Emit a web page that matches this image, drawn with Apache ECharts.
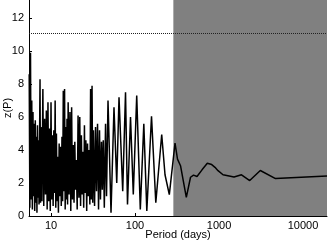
<!DOCTYPE html>
<html>
<head>
<meta charset="utf-8">
<script src="https://cdn.jsdelivr.net/npm/echarts@6/dist/echarts.min.js"></script>
<style>html,body{margin:0;padding:0;background:#fff}#c{width:328px;height:242px}</style>
</head>
<body>
<div id="c"></div>
<script>
const periods = [5.5,5.6,5.7,5.8,5.9,6.0,6.1,6.2,6.3,6.4,6.5,6.6,6.7,6.8,6.9,7.0,7.1,7.2,7.4,7.5,7.6,7.8,8.0,8.2,8.4,8.6,8.8,9.0,9.2,9.4,9.6,9.8,10.0,10.2,10.4,10.6,10.8,11.0,11.2,11.4,11.6,11.8,12.0,12.25,12.5,12.75,13.0,13.25,13.5,13.75,14.0,14.25,14.5,14.75,15.0,15.25,15.5,15.75,16.0,16.4,16.8,17.2,17.6,18.0,18.4,18.8,19.2,19.6,20.0,20.5,21.0,21.5,22.0,22.5,23.0,23.5,24.0,24.5,25.0,25.5,26.0,26.6,27.2,27.8,28.4,29.0,29.6,30.2,30.8,31.4,32.0,33.0,33.9,34.8,35.8,36.8,37.8,38.8,39.9,40.8,41.9,43.1,44.6,45.8,47.7,51.8,56.2,60.6,64.5,71.4,77.1,81.4,88.4,95.4,104.8,115.6,127.3,138.2,157.2,176.8,207.9,227.6,256.1,299.4,320.6,348.1,408.1,457.9,497.2,547.1,627.6,725.5,818.8,896,973,1116,1509,1853,2321,3102,4706,19300];
const zValues = [8.6,0.5,9.9,1.0,7.0,0.4,6.3,1.2,5.6,0.3,5.8,0.8,4.8,0.2,5.5,1.1,4.6,0.7,8.3,0.8,5.4,0.9,7.7,0.6,5.9,1.3,6.4,0.4,6.9,0.9,5.3,0.3,6.9,1.0,4.9,0.6,5.2,1.4,7.0,0.5,5.0,0.9,3.6,0.2,4.4,1.2,4.2,0.6,4.8,0.9,7.6,1.5,7.7,0.4,5.4,1.0,5.9,0.7,6.9,1.3,6.3,0.3,6.6,1.0,4.3,0.8,4.5,1.6,3.4,0.4,6.1,1.1,6.0,0.6,4.9,1.3,3.9,0.5,5.5,1.4,4.6,0.3,4.4,1.2,4.0,0.7,7.7,1.0,7.9,0.8,5.2,0.6,5.4,1.5,5.6,0.4,5.2,1.0,4.5,1.6,4.6,0.5,5.6,1.2,7.0,0.2,6.6,2.0,7.2,1.5,7.5,0.7,6.0,1.3,7.3,0.4,5.6,0.3,6.05,0.8,4.94,2.5,1.3,4.42,3.45,3.05,1.13,2.35,2.48,2.4,2.8,3.2,3.12,2.95,2.75,2.5,2.36,2.5,2.15,2.76,2.27,2.42];
const xMin = 5.47, xMax = 19300;
const yMin = 0, yMax = 13.1, yInterval = 2;
const xTickLabels = [10, 100, 1000, 10000];
const threshold = 11.1;
const shadeStart = 286;

const chart = echarts.init(document.getElementById('c'), null, {renderer: 'canvas'});
const font = 'Liberation Sans';
chart.setOption({
  animation: false,
  grid: {left: 29, right: 1, top: 0, bottom: 26, containLabel: false, outerBoundsMode: 'none'},
  xAxis: {
    type: 'log', logBase: 10, min: xMin, max: xMax,
    name: 'Period (days)', nameLocation: 'middle', nameGap: 13, nameMoveOverlap: false,
    nameTextStyle: {fontFamily: font, fontSize: 11, color: '#000'},
    axisLine: {lineStyle: {color: '#000', width: 1}},
    axisTick: {inside: true, length: 3, lineStyle: {color: '#000'}},
    splitLine: {show: false},
    axisLabel: {
      fontFamily: font, fontSize: 11, color: '#000', margin: 4,
      showMinLabel: false, showMaxLabel: false,
      formatter: v => { const r = Math.round(v); return xTickLabels.includes(r) ? String(r) : ''; }
    }
  },
  yAxis: {
    type: 'value', min: yMin, max: yMax, interval: yInterval,
    name: 'z(P)', nameLocation: 'middle', nameGap: 16, nameRotate: 90, nameMoveOverlap: false,
    nameTextStyle: {fontFamily: font, fontSize: 11, color: '#000'},
    axisLine: {show: true, lineStyle: {color: '#000', width: 1}},
    axisTick: {show: true, inside: true, length: 3, lineStyle: {color: '#000'}},
    splitLine: {show: false},
    axisLabel: {fontFamily: font, fontSize: 11, color: '#000', margin: 5, showMaxLabel: false,
      formatter: v => (v % yInterval === 0 ? String(v) : '')}
  },
  series: [
    {
      type: 'line', data: [], z: 1, silent: true,
      markArea: {silent: true, itemStyle: {color: '#808080', opacity: 1},
        data: [[{xAxis: shadeStart}, {xAxis: xMax}]]}
    },
    {
      type: 'line', z: 3, showSymbol: false, symbol: 'none',
      lineStyle: {color: '#000', width: 1.5},
      data: periods.map((p, i) => [p, zValues[i]]),
      markLine: {silent: true, symbol: ['none', 'none'], label: {show: false},
        lineStyle: {color: '#222', width: 1, type: [1, 1]},
        data: [{yAxis: threshold}]}
    }
  ]
});
</script>
</body>
</html>
